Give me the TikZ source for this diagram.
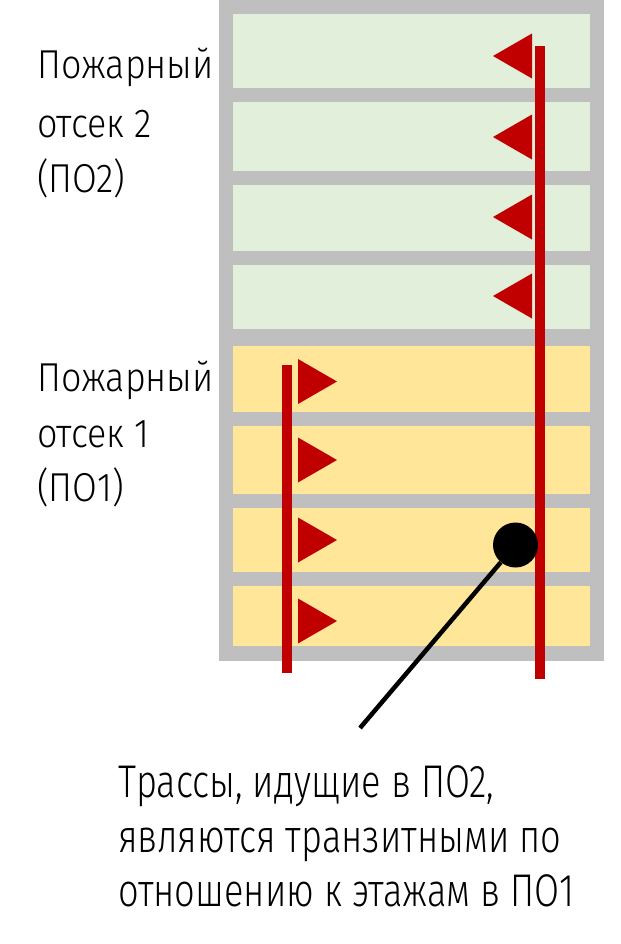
\documentclass[tikz,border=0pt]{standalone}
\usepackage{fontspec}
\setmainfont{Fira Sans Light}
\newfontfamily\sidefont{Fira Sans Light}[FakeStretch=0.89]
\newfontfamily\notefont{Fira Sans Light}[FakeStretch=0.79]
\usetikzlibrary{calc}
\definecolor{wallgray}{HTML}{BFBFBF}
\definecolor{greenfloor}{HTML}{E2EFDA}
\definecolor{yellowfloor}{HTML}{FFE699}
\definecolor{pipered}{HTML}{C00000}
\tikzset{
  floorbox/.style={draw=none, inner sep=0pt, minimum width=357bp, anchor=north west},
  gfloor/.style={floorbox, fill=greenfloor},
  yfloor/.style={floorbox, fill=yellowfloor},
  riser/.style={draw=pipered, line width=10bp},
  flagtri/.style={fill=pipered, draw=none},
  lbl/.style={anchor=base west, inner sep=0pt, font=\sidefont\fontsize{40.5}{48}\selectfont},
  note/.style={anchor=base west, inner sep=0pt, font=\notefont\fontsize{46}{54}\selectfont},
  leader/.style={draw=black, line width=4.5bp},
}
\begin{document}
\begin{tikzpicture}[x=1bp, y=-1bp]
\useasboundingbox[fill=white] (0,0) rectangle (621,944);
% building
\fill[wallgray] (219,0) rectangle (604,661);
\node[gfloor, minimum height=74bp] (g1) at (233,14) {};
\node[gfloor, minimum height=69bp] (g2) at (233,102) {};
\node[gfloor, minimum height=66bp] (g3) at (233,185) {};
\node[gfloor, minimum height=64bp] (g4) at (233,265) {};
\node[yfloor, minimum height=66bp] (y1) at (233,346) {};
\node[yfloor, minimum height=68bp] (y2) at (233,426) {};
\node[yfloor, minimum height=64bp] (y3) at (233,508) {};
\node[yfloor, minimum height=60bp] (y4) at (233,586) {};
% risers
\coordinate (r2top) at (540,46);
\coordinate (r2bot) at (540,679);
\coordinate (r1top) at (287,365);
\coordinate (r1bot) at (287,673);
\draw[riser] (r2top) -- (r2bot);
\draw[riser] (r1top) -- (r1bot);
% flags PO2 (pointing left)
\foreach \c in {56,137,217,296}{
  \fill[flagtri] (532,\c-22.5) -- (493,\c) -- (532,\c+22.5) -- cycle;
}
% flags PO1 (pointing right)
\foreach \c in {381.5,460,540,621}{
  \fill[flagtri] (298,\c-22.5) -- (337,\c) -- (298,\c+22.5) -- cycle;
}
% dot and leader
\node[circle, fill=black, inner sep=0pt, minimum size=45bp] (dot) at (515.5,545) {};
\coordinate (leadend) at (360,728);
\draw[leader] (leadend) -- (dot);
% labels
\node[lbl] (l2a) at (37,78) {Пожарный};
\node[lbl] (l2b) at (37,137) {отсек 2};
\node[lbl] (l2c) at (37,192) {(ПО2)};
\node[lbl] (l1a) at (37,391) {Пожарный};
\node[lbl] (l1b) at (37,447) {отсек 1};
\node[lbl] (l1c) at (37,501) {(ПО1)};
\node[note] (n1) at (118,797) {Трассы, идущие в ПО2,};
\node[note] (n2) at (118,852) {являются транзитными по};
\node[note] (n3) at (118,906) {отношению к этажам в ПО1};
\end{tikzpicture}
\end{document}
